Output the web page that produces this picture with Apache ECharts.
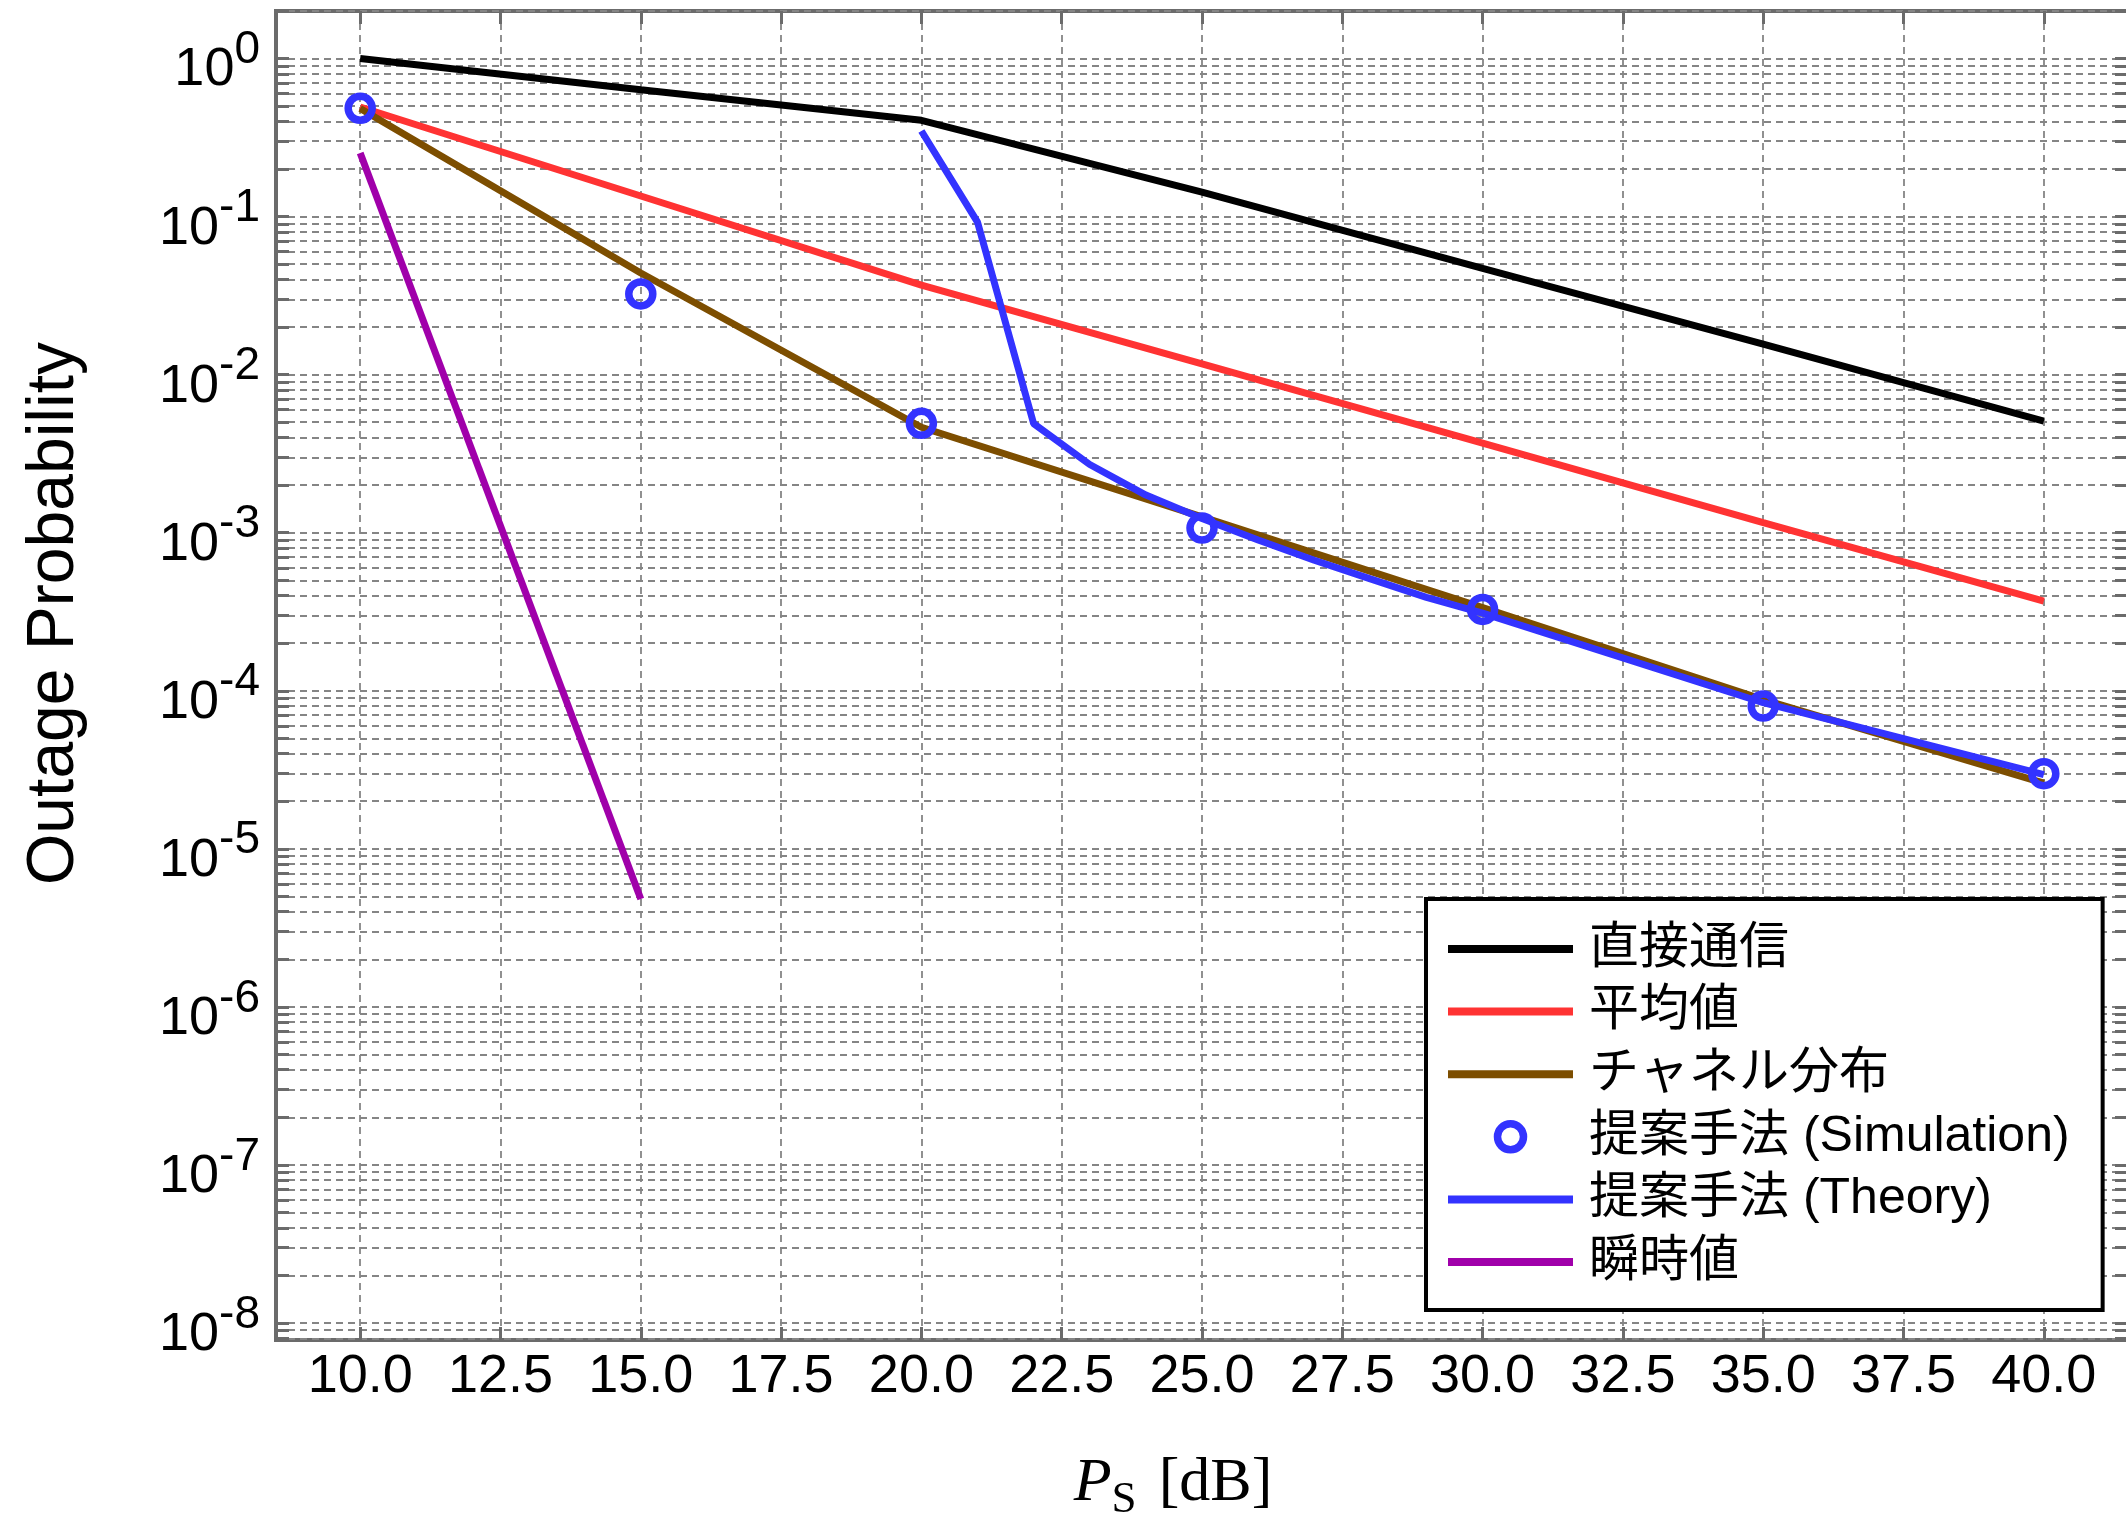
<!DOCTYPE html>
<html>
<head>
<meta charset="utf-8">
<title>Outage Probability</title>
<style>
  html, body { margin: 0; padding: 0; background: #ffffff; }
  #chart { width: 2126px; height: 1523px; }
</style>
<script src="https://cdn.jsdelivr.net/npm/echarts@6/dist/echarts.min.js"></script>
</head>
<body>
<div id="chart"></div>
<script>
// ---- data ---------------------------------------------------------------
const powerDb        = [10, 15, 20, 25, 30, 35, 40];
const directComm     = [1.0, 0.635, 0.407, 0.143, 0.0471, 0.0156, 0.00509];
const meanValue      = [0.494, 0.135, 0.0369, 0.0117, 0.00369, 0.00116, 0.000369];
const channelDist    = [0.483, 0.044, 0.00465, 0.00126, 0.000336, 0.000088, 0.000026];
const proposedSim    = [0.485, 0.0324, 0.00492, 0.00107, 0.000327, 0.000080, 0.0000299];

const theoryDb       = [20, 21, 22, 23, 24, 25, 26, 27, 28, 29, 30, 35, 40];
const proposedTheory = [0.348, 0.0923, 0.0049, 0.0027, 0.00173, 0.00123, 0.0009,
                        0.00067, 0.00051, 0.00039, 0.00031, 0.000084, 0.0000295];

const instantDb      = [10, 15];
const instantValue   = [0.253, 0.00000482];

const xTickValues = [10, 12.5, 15, 17.5, 20, 22.5, 25, 27.5, 30, 32.5, 35, 37.5, 40];
const yLabelValues = [1e-8, 1e-7, 1e-6, 1e-5, 1e-4, 1e-3, 1e-2, 1e-1, 1];

const seriesNames = ['直接通信', '平均値', 'チャネル分布', '提案手法 (Simulation)', '提案手法 (Theory)', '瞬時値'];
const seriesColors = ['#000000', '#ff3333', '#7d4e00', '#3333ff', '#3333ff', '#a000aa'];

// ---- axis helpers -------------------------------------------------------
const X_MIN = 8.5, X_MAX = 41.5;
const Y_MIN = 7.8e-9, Y_MAX = 2;

// log grid: 1..9 x 10^k inside the visible range
const yGridValues = [];
for (let k = -9; k <= 0; k++) {
  for (let m = 1; m <= 9; m++) {
    const v = m * Math.pow(10, k);
    if (v >= Y_MIN && v <= Y_MAX) yGridValues.push(v);
  }
}

const pair = (xs, ys) => xs.map((x, i) => [x, ys[i]]);

const SANS = '"Liberation Sans", Arial, Helvetica, sans-serif';
const SERIF = '"Liberation Serif", "Times New Roman", serif';
const LEGEND_FONT = '"Liberation Sans", "Noto Sans CJK JP", sans-serif';
const FRAME = '#6b6b6b';
const GRID = '#858585';
const LINE_W = 7;

const tickStyle = { show: true, inside: true, length: 13, lineStyle: { color: FRAME, width: 3 } };
const dashed = { show: true, lineStyle: { color: GRID, width: 1.8, type: [7, 5] } };

const barIcon = 'path://M0,0H125V8H0Z';

const chart = echarts.init(document.getElementById('chart'), null, { renderer: 'canvas' });

const lineSeries = (name, xs, ys, color, z) => ({
  name, type: 'line', data: pair(xs, ys),
  symbol: 'none', showSymbol: false, z: z || 2,
  lineStyle: { color, width: LINE_W },
  itemStyle: { color },
  emphasis: { disabled: true },
  animation: false
});

chart.setOption({
  backgroundColor: '#ffffff',
  animation: false,
  grid: {
    left: 276, top: 11, width: 1852, height: 1329,
    containLabel: false, outerBoundsMode: 'none',
    show: true, borderColor: FRAME, borderWidth: 4, backgroundColor: 'transparent'
  },
  xAxis: [
    {
      type: 'value', position: 'bottom', min: X_MIN, max: X_MAX,
      axisLine: { show: false },
      axisTick: Object.assign({ customValues: xTickValues }, tickStyle),
      axisLabel: {
        customValues: xTickValues,
        formatter: v => Number(v).toFixed(1),
        fontSize: 54, fontFamily: SANS, color: '#000', margin: 10
      },
      splitLine: dashed,
      name: '{p|P}{s|S}{u|[dB]}',
      nameLocation: 'middle', nameGap: 113,
      nameTextStyle: {
        color: '#000', padding: [0, 58, 0, 0],
        rich: {
          p: { fontFamily: SERIF, fontStyle: 'italic', fontSize: 62, color: '#000', verticalAlign: 'top' },
          s: { fontFamily: SERIF, fontSize: 45, color: '#000', verticalAlign: 'top', padding: [25, 0, 0, 0] },
          u: { fontFamily: SERIF, fontSize: 62, color: '#000', verticalAlign: 'top', padding: [0, 0, 0, 22] }
        }
      }
    },
    {
      type: 'value', position: 'top', min: X_MIN, max: X_MAX,
      axisLine: { show: false },
      axisTick: Object.assign({ customValues: xTickValues }, tickStyle),
      axisLabel: { show: false },
      splitLine: { show: false }
    }
  ],
  yAxis: [
    {
      type: 'log', logBase: 10, position: 'left', min: Y_MIN, max: Y_MAX,
      axisLine: { show: false },
      axisTick: Object.assign({ customValues: yGridValues }, tickStyle),
      axisLabel: {
        customValues: yLabelValues,
        formatter: v => '{b|10}{e|' + Math.round(Math.log10(v)) + '}',
        margin: 16, padding: [8, 0, 0, 0],
        rich: {
          b: { fontSize: 54, fontFamily: SANS, color: '#000', verticalAlign: 'bottom' },
          e: { fontSize: 46, fontFamily: SANS, color: '#000', verticalAlign: 'bottom', padding: [0, 0, 24, 0] }
        }
      },
      splitLine: dashed,
      name: 'Outage Probability',
      nameLocation: 'middle', nameGap: 188,
      nameTextStyle: { fontSize: 66, fontFamily: SANS, color: '#000', padding: [0, 0, 0, 124] }
    },
    {
      type: 'log', logBase: 10, position: 'right', min: Y_MIN, max: Y_MAX,
      axisLine: { show: false },
      axisTick: Object.assign({ customValues: yGridValues }, tickStyle),
      axisLabel: { show: false },
      splitLine: { show: false }
    }
  ],
  legend: {
    orient: 'vertical', left: 1426, top: 899,
    padding: [24, 33, 22, 22],
    backgroundColor: '#ffffff', borderColor: '#000000', borderWidth: 4, borderRadius: 0,
    itemWidth: 125, itemHeight: 26, itemGap: 10.6,
    selectedMode: false,
    textStyle: { fontSize: 50, lineHeight: 52, fontFamily: LEGEND_FONT, color: '#000', padding: [0, 0, 0, 11] },
    data: seriesNames.map((name, i) => (
      i === 3
        ? { name, icon: 'circle', itemStyle: { color: 'rgba(0,0,0,0)', borderColor: seriesColors[i], borderWidth: 7.5 } }
        : { name, icon: barIcon, itemStyle: { color: seriesColors[i], borderWidth: 0 } }
    ))
  },
  series: [
    lineSeries(seriesNames[0], powerDb, directComm, seriesColors[0]),
    lineSeries(seriesNames[1], powerDb, meanValue, seriesColors[1]),
    lineSeries(seriesNames[2], powerDb, channelDist, seriesColors[2]),
    {
      name: seriesNames[3], type: 'scatter', data: pair(powerDb, proposedSim),
      symbol: 'circle', symbolSize: 24, z: 4,
      itemStyle: { color: 'rgba(0,0,0,0)', borderColor: seriesColors[3], borderWidth: 7.5, opacity: 1 },
      emphasis: { disabled: true },
      animation: false
    },
    lineSeries(seriesNames[4], theoryDb, proposedTheory, seriesColors[4], 3),
    lineSeries(seriesNames[5], instantDb, instantValue, seriesColors[5], 3)
  ]
});
</script>
</body>
</html>
